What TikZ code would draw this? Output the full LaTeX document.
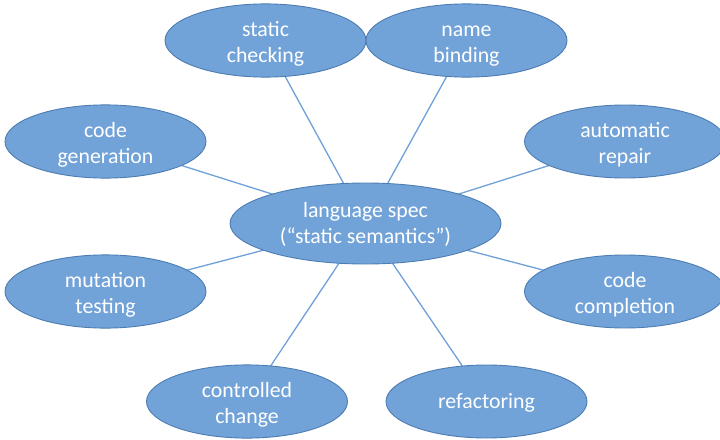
\documentclass[tikz,border=0pt]{standalone}
\usepackage{fontspec}
\setmainfont{Carlito}
\usetikzlibrary{shapes.geometric,backgrounds}
\definecolor{bubblefill}{HTML}{72A3D8}
\definecolor{bubbleedge}{HTML}{4D7DB3}
\definecolor{linkcol}{HTML}{6FA0D8}
% invisible strut that sets the height of a caption's first line
\newcommand{\capstrut}[1]{\rule{0pt}{#1pt}}
\begin{document}
\begin{tikzpicture}[x=1pt,y=-1pt,
  bubble/.style={ellipse, draw=bubbleedge, line width=0.9pt, fill=bubblefill,
    minimum width=201pt, minimum height=73pt, inner sep=0pt,
    text=white, align=center, font=\fontsize{21.8}{26}\selectfont},
  hub/.style={bubble, minimum width=271pt, minimum height=81pt},
  link/.style={draw=linkcol, line width=1.3pt}]
\useasboundingbox (0,0) rectangle (720,439);
% hub
\node[hub] (spec) at (365.5,223.5)
  {\capstrut{18}language spec\\(“static semantics”)};
% surrounding topics
\node[bubble] (check)  at (265.5,40.5)  {\capstrut{22}static\\checking};
\node[bubble] (bind)   at (466.5,40.5)  {\capstrut{22}name\\binding};
\node[bubble] (gen)    at (105.5,141.5) {\capstrut{22}code\\generation};
\node[bubble] (repair) at (625,141.5)   {\capstrut{22}automatic\\repair};
\node[bubble] (mut)    at (105.5,291.5) {\capstrut{22}mutation\\testing};
\node[bubble] (compl)  at (625,291.5)   {\capstrut{22}code\\completion};
\node[bubble] (ctrl)   at (247,401.5)   {\capstrut{22}controlled\\change};
\node[bubble] (refac)  at (486.5,401.5) {\capstrut{18.6}refactoring};
% spokes from the hub, behind the bubbles
\begin{scope}[on background layer]
  \foreach \n in {check,bind,gen,repair,mut,compl,ctrl,refac}
    \path[link] (spec.center) -- (\n.center);
\end{scope}
\end{tikzpicture}
\end{document}
